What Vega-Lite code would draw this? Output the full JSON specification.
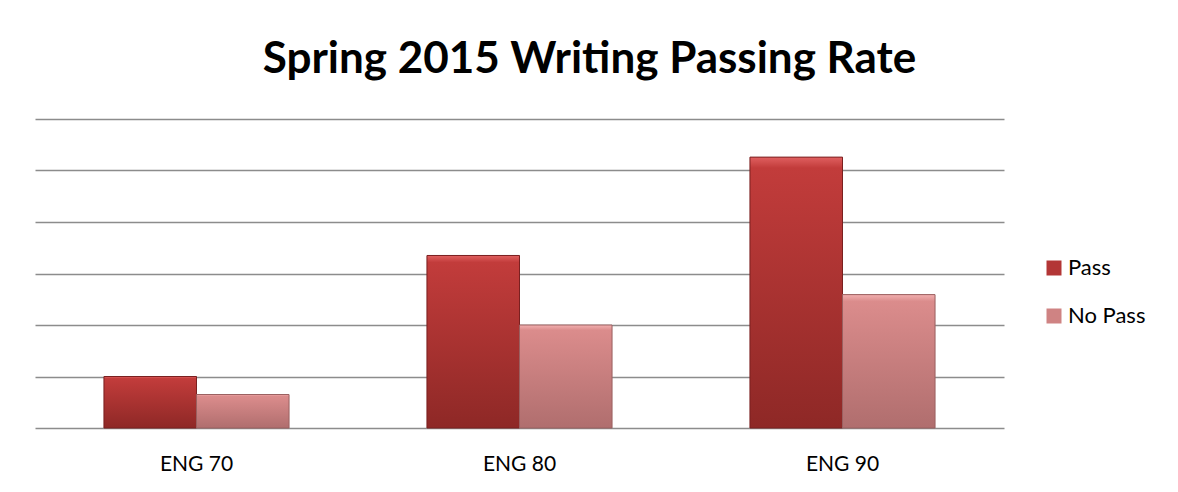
{
  "$schema": "https://vega.github.io/schema/vega-lite/v6.json",
  "autosize": "none",
  "width": 969,
  "height": 309,
  "padding": {"left": 35, "top": 119, "right": 174, "bottom": 64},
  "background": "white",
  "config": {"view": {"stroke": null}},
  "title": {
    "text": "Spring 2015 Writing Passing Rate",
    "font": "Lato",
    "fontSize": 44,
    "fontWeight": "bold",
    "color": "#000000",
    "anchor": "middle",
    "dx": 70,
    "offset": 37
  },
  "data": {
    "values": [
      {"course": "ENG 70", "result": "Pass", "value": 1.0},
      {"course": "ENG 70", "result": "No Pass", "value": 0.65},
      {"course": "ENG 80", "result": "Pass", "value": 3.35},
      {"course": "ENG 80", "result": "No Pass", "value": 2.0},
      {"course": "ENG 90", "result": "Pass", "value": 5.26},
      {"course": "ENG 90", "result": "No Pass", "value": 2.59}
    ]
  },
  "encoding": {
    "x": {
      "field": "course",
      "type": "nominal",
      "sort": ["ENG 70", "ENG 80", "ENG 90"],
      "scale": {"paddingInner": 0.427, "paddingOuter": 0.2135},
      "axis": {
        "title": null,
        "labelAngle": 0,
        "labelFont": "Lato",
        "labelFontSize": 21,
        "labelColor": "#000000",
        "labelPadding": 25,
        "ticks": false,
        "domain": false,
        "grid": false
      }
    },
    "xOffset": {"field": "result", "type": "nominal", "sort": ["Pass", "No Pass"]},
    "y": {
      "field": "value",
      "type": "quantitative",
      "scale": {"domain": [0, 6], "nice": false},
      "axis": {
        "title": null,
        "labels": false,
        "ticks": false,
        "domain": false,
        "values": [0, 1, 2, 3, 4, 5, 6],
        "grid": true,
        "gridColor": "#8c8c8c",
        "gridWidth": 1.5
      }
    }
  },
  "layer": [
    {
      "mark": {"type": "bar"},
      "encoding": {
        "color": {
          "field": "result",
          "type": "nominal",
          "sort": ["Pass", "No Pass"],
          "scale": {"domain": ["Pass", "No Pass"], "range": ["#b33636", "#cf8383"]},
          "legend": {
            "title": null,
            "orient": "none",
            "legendX": 1008,
            "legendY": 138,
            "symbolType": "square",
            "symbolSize": 225,
            "symbolStrokeWidth": 0,
            "labelFont": "Lato",
            "labelFontSize": 22,
            "labelColor": "#000000",
            "rowPadding": 26,
            "labelOffset": 3
          }
        }
      }
    },
    {
      "transform": [{"filter": "datum.result === 'Pass'"}],
      "mark": {
        "type": "bar",
        "stroke": "#7a2020",
        "strokeWidth": 1,
        "fill": {
          "gradient": "linear",
          "x1": 0, "y1": 0, "x2": 0, "y2": 1,
          "stops": [
            {"offset": 0, "color": "#e06060"},
            {"offset": 0.04, "color": "#c23c3b"},
            {"offset": 1, "color": "#8e2826"}
          ]
        }
      },
      "encoding": {}
    },
    {
      "transform": [{"filter": "datum.result === 'No Pass'"}],
      "mark": {
        "type": "bar",
        "stroke": "#9a6060",
        "strokeWidth": 1,
        "fill": {
          "gradient": "linear",
          "x1": 0, "y1": 0, "x2": 0, "y2": 1,
          "stops": [
            {"offset": 0, "color": "#f2b0b0"},
            {"offset": 0.05, "color": "#db8c8c"},
            {"offset": 1, "color": "#b06e6e"}
          ]
        }
      },
      "encoding": {}
    }
  ]
}
